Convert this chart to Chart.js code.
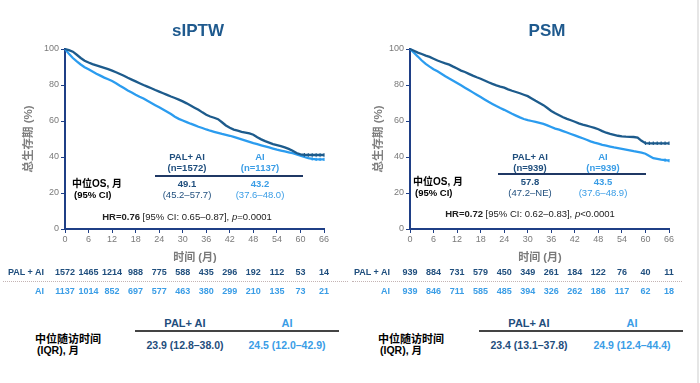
<!DOCTYPE html>
<html>
<head>
<meta charset="utf-8">
<script src="https://cdn.jsdelivr.net/npm/chart.js@4.4.1/dist/chart.umd.min.js"></script>
<style>
  html, body { margin:0; padding:0; background:#fff; }
  #wrap { position:relative; width:700px; height:383px; overflow:hidden; background:#fff;
          font-family:"Liberation Sans", Arial, "Noto Sans CJK SC", sans-serif; }
  .cv { position:absolute; top:0; width:350px; height:250px; }
  .t { position:absolute; white-space:nowrap; line-height:1; }
  .c { transform:translate(-50%,-50%); }
  .l { transform:translate(0,-50%); }
  .r { transform:translate(-100%,-50%); }
  .hl { position:absolute; height:0; }
</style>
</head>
<body>
<div id="wrap">
  <canvas id="c1" class="cv" style="left:0" width="350" height="250"></canvas>
  <canvas id="c2" class="cv" style="left:350px" width="350" height="250"></canvas>
</div>
<script>
// ---------------- data ----------------
const months = [0,1,2,3,4,5,6,7,8,9,10,11,12,13,14,15,16,17,18,19,20,21,22,23,24,25,26,27,28,29,30,
  31,32,33,34,35,36,37,38,39,40,41,42,43,44,45,46,47,48,49,50,51,52,53,54,55,56,57,58,59,60,
  61,62,63,64,65,66,67,68,68.6];

const sIptwPal = [100,99.4,98.5,96.8,95,93.5,92.5,91.6,90.9,90.2,89.5,88.8,88,87.1,86.1,85.1,84,83,82,81,80,
  79.1,78.2,77.2,76.3,75.4,74.5,73.6,72.8,71.9,70.9,69.8,68.6,67.4,66.2,64.8,63.5,62.5,61.8,61,59.3,
  57.5,56.2,55.2,54.6,54,53.6,53.1,52.4,51,49.8,48.8,48,47.2,46.6,46,45.3,44.5,43.5,42.2,41.5,
  41.2,41.1,41.1,41.1,41.1,41.1,41.1,41.1,41.1];
const sIptwAi = [100,97.3,95,93.1,91.4,89.9,88.7,87.5,86.3,85.2,84.1,83.2,82.2,81,79.6,78.3,77,75.8,74.6,73.5,72.5,
  71.2,70,68.8,67.6,66.4,65.2,63.9,62.4,61.2,60.3,59.4,58.5,57.7,56.8,56.1,55.3,54.6,54,53.4,52.8,
  52.3,51.8,51.2,50.5,49.8,49.1,48.4,47.7,47.1,46.5,45.9,45.3,44.7,44.1,43.6,43.1,42.6,42.1,41.5,40.8,
  40,39.4,39,38.7,38.7,38.7,38.7,38.7,38.7];
const psmPal = [100,99,98,97.2,96.3,95.6,94.6,93.6,92.8,92,91.3,90.2,89.2,88,87.2,86.2,85.2,84.3,83.5,82.5,81.5,
  80.6,79.8,79.1,78.5,77.6,76.8,76.1,75.4,74.6,73.8,72.5,71.2,70,68.8,67.2,65.6,64.3,63.2,62.1,61.2,
  60.4,59.6,58.7,58,57.4,56.8,56.2,55.4,54.4,53.5,52.8,52.3,51.8,51.5,51.3,51.2,51.1,50.8,49,47.7,
  47.6,47.6,47.6,47.6,47.6,47.6,47.6,47.6,47.6];
const psmAi = [100,97.9,95.8,93.6,91.7,90.2,88.8,87.6,86.3,84.9,83.6,82.4,81.1,79.8,78.5,77.2,75.9,74.6,73.3,72,70.7,
  69.5,68.3,67.2,66.2,65.1,64,63,62,61.1,60.5,60,59.5,59,58.4,57.6,56.7,55.8,55.2,54.4,53.6,
  52.8,52,51.2,50.4,49.6,48.7,48,47.4,46.8,46.3,45.8,45.3,44.9,44.5,44.1,43.7,43.2,42.8,42.4,41.8,
  40.6,39.3,39,38.6,38.3,38,37.9,37.9,37.9];

const riskMonths = [0,6,12,18,24,30,36,42,48,54,60,66];
const sIptwRiskPal = [1572,1465,1214,988,775,588,435,296,192,112,53,14];
const sIptwRiskAi  = [1137,1014,852,697,577,463,380,299,210,135,73,21];
const psmRiskPal   = [939,884,731,579,450,349,261,184,122,76,40,11];
const psmRiskAi    = [939,846,711,585,485,394,326,262,186,117,62,18];

const xTicks = [0,6,12,18,24,30,36,42,48,54,60,66];
const yTicks = [0,20,40,60,80,100];

// ---------------- style ----------------
const DARK = '#1d5b8c';
const LIGHT = '#2b9cef';
const AXIS = '#1f3f86';
const TXT_DARK = '#1f4e7d';
const TXT_LIGHT = '#3a9de6';
const FONT = '"Liberation Sans", Arial, "Noto Sans CJK SC", sans-serif';

function zip(xs, ys) { return ys.map((y, i) => ({x: xs[i], y})); }

function makeChart(id, pal, ai, yAxisX, xEndX, censorFrom) {
  const ctx = document.getElementById(id);
  const padLeft = 18;
  const radiusArr = (n, from, r) => months.map((m, i) => (m >= from && i < n) ? r : 0);
  return new Chart(ctx, {
    type: 'line',
    data: {
      datasets: [
        { label: 'PAL + AI', data: zip(months, pal), borderColor: DARK, borderWidth: 2.3,
          pointStyle: 'line', rotation: 90, pointRadius: radiusArr(pal.length, censorFrom[0], 1.8),
          pointBorderWidth: 1.2, pointBorderColor: DARK, tension: 0, clip: false, order: 1 },
        { label: 'AI', data: zip(months, ai), borderColor: LIGHT, borderWidth: 2.3,
          pointStyle: 'line', rotation: 90, pointRadius: radiusArr(ai.length, censorFrom[1], 1.6),
          pointBorderWidth: 1.2, pointBorderColor: LIGHT, tension: 0, clip: false, order: 2 }
      ]
    },
    options: {
      responsive: false,
      animation: false,
      events: [],
      layout: { padding: { left: padLeft, top: 49, right: 350 - xEndX, bottom: 0 } },
      plugins: { legend: { display: false }, tooltip: { enabled: false }, title: { display: false } },
      scales: {
        x: {
          type: 'linear', min: 0, max: 66,
          afterBuildTicks: (s) => { s.ticks = xTicks.map(v => ({value: v})); },
          afterFit: (s) => { s.height = 21; },
          grid: { display: true, drawOnChartArea: false, drawTicks: true, tickLength: 4, color: AXIS, lineWidth: 1 },
          border: { display: true, color: AXIS, width: 2 },
          ticks: { color: '#7a7a7a', font: { family: FONT, size: 9 }, padding: 1, maxRotation: 0, autoSkip: false }
        },
        y: {
          type: 'linear', min: 0, max: 100,
          afterBuildTicks: (s) => { s.ticks = yTicks.map(v => ({value: v})); },
          afterFit: (s) => { s.width = yAxisX - padLeft; },
          grid: { display: true, drawOnChartArea: false, drawTicks: true, tickLength: 4, color: AXIS, lineWidth: 1 },
          border: { display: true, color: AXIS, width: 2 },
          ticks: { color: '#7a7a7a', font: { family: FONT, size: 9 }, padding: 2 },
          title: { display: true, text: '总生存期 (%)', color: '#7f7f7f',
                   font: { family: FONT, size: 11.5, weight: 'bold' }, padding: { top: 4, bottom: 0 } }
        }
      }
    }
  });
}

const chart1 = makeChart('c1', sIptwPal, sIptwAi, 65, 324, [61, 63]);
const chart2 = makeChart('c2', psmPal, psmAi, 60, 319, [60, 65]);

// ---------------- overlay text ----------------
const wrap = document.getElementById('wrap');
function txt(html, x, y, opts) {
  const d = document.createElement('div');
  d.className = 't ' + (opts.a || 'c');
  d.innerHTML = html;
  d.style.left = x + 'px';
  d.style.top = y + 'px';
  d.style.fontSize = (opts.s || 10) + 'px';
  d.style.color = opts.c || '#000';
  d.style.fontWeight = opts.b ? 'bold' : 'normal';
  wrap.appendChild(d);
  return d;
}
function hline(x1, x2, y, w, color, style) {
  const d = document.createElement('div');
  d.className = 'hl';
  d.style.left = x1 + 'px';
  d.style.width = (x2 - x1) + 'px';
  d.style.top = (y - w / 2) + 'px';
  d.style.borderTop = w + 'px ' + (style || 'solid') + ' ' + color;
  wrap.appendChild(d);
}

function panel(chart, offX, cfg) {
  txt(cfg.title, cfg.titleX, 30, {b: true, s: 17, c: '#1f5a8e'});
  // median OS block
  txt('PAL+ AI', cfg.colA, 157, {b: true, s: 9.5, c: TXT_DARK});
  txt(cfg.nA, cfg.colA, 168, {b: true, s: 9.5, c: TXT_DARK});
  txt('AI', cfg.colB, 157, {b: true, s: 9.5, c: TXT_LIGHT});
  txt(cfg.nB, cfg.colB, 168, {b: true, s: 9.5, c: TXT_LIGHT});
  hline(cfg.lineX1, cfg.lineX2, cfg.lineY, 2, '#1f3864');
  txt(cfg.medA, cfg.colA, cfg.medY, {b: true, s: 9.5, c: TXT_DARK});
  txt(cfg.ciA, cfg.colA, cfg.medY + 11, {s: 9.5, c: TXT_DARK});
  txt(cfg.medB, cfg.colB, cfg.medY, {b: true, s: 9.5, c: TXT_LIGHT});
  txt(cfg.ciB, cfg.colB, cfg.medY + 11, {s: 9.5, c: TXT_LIGHT});
  txt('中位OS, 月', cfg.osX, cfg.medY, {a: 'l', b: true, s: 10, c: '#000'});
  txt('(95% CI)', cfg.osX + 2, cfg.medY + 11, {a: 'l', b: true, s: 9.5, c: '#000'});
  txt(cfg.hr, cfg.colA, cfg.hrY, {s: 9.5, c: '#222'});
  // x axis title
  txt('时间 (月)', cfg.axX, 257, {b: true, s: 11, c: '#7a7a7a'});
  // numbers at risk
  const xs = chart.scales.x;
  txt('PAL + AI', cfg.labX, 272, {a: 'r', b: true, s: 9, c: TXT_DARK});
  txt('AI', cfg.labX, 291, {a: 'r', b: true, s: 9, c: TXT_LIGHT});
  riskMonths.forEach((m, i) => {
    const px = offX + xs.getPixelForValue(m);
    txt(String(cfg.riskA[i]), px, 272, {b: true, s: 9, c: TXT_DARK});
    txt(String(cfg.riskB[i]), px, 291, {b: true, s: 9, c: TXT_LIGHT});
  });
  hline(cfg.dotX1, cfg.dotX2, 282, 1.5, '#c4b4b4', 'dotted');
  // follow-up table
  txt('PAL+ AI', cfg.colA2, 323, {b: true, s: 11, c: TXT_DARK});
  txt('AI', cfg.colB2, 323, {b: true, s: 11, c: TXT_LIGHT});
  hline(cfg.tabX1, cfg.tabX2, 331, 2, '#444');
  txt(cfg.fuA, cfg.colA2, 345, {b: true, s: 10.5, c: TXT_DARK});
  txt(cfg.fuB, cfg.colB2, 345, {b: true, s: 10.5, c: TXT_LIGHT});
  txt('中位随访时间', cfg.fuLabX, 339, {a: 'l', b: true, s: 11, c: '#000'});
  txt('(IQR), 月', cfg.fuLabX + 2, 350, {a: 'l', b: true, s: 10.5, c: '#000'});
}

panel(chart1, 0, {
  title: 'sIPTW', titleX: 198,
  colA: 187, colB: 260, nA: '(n=1572)', nB: '(n=1137)',
  lineX1: 155, lineX2: 303, lineY: 176, medY: 184,
  medA: '49.1', ciA: '(45.2–57.7)', medB: '43.2', ciB: '(37.6–48.0)',
  osX: 72, hrY: 217,
  hr: '<b>HR=0.76</b> [95% CI: 0.65–0.87], <i>p</i>=0.0001',
  axX: 195, labX: 44,
  riskA: sIptwRiskPal, riskB: sIptwRiskAi, dotX1: 3, dotX2: 348,
  colA2: 185, colB2: 287, tabX1: 135, tabX2: 339,
  fuA: '23.9 (12.8–38.0)', fuB: '24.5 (12.0–42.9)', fuLabX: 35
});
panel(chart2, 350, {
  title: 'PSM', titleX: 547,
  colA: 530, colB: 603, nA: '(n=939)', nB: '(n=939)',
  lineX1: 498, lineX2: 646, lineY: 174, medY: 182,
  medA: '57.8', ciA: '(47.2–NE)', medB: '43.5', ciB: '(37.6–48.9)',
  osX: 413, hrY: 214,
  hr: '<b>HR=0.72</b> [95% CI: 0.62–0.83], <i>p</i>&lt;0.0001',
  axX: 540, labX: 390,
  riskA: psmRiskPal, riskB: psmRiskAi, dotX1: 352, dotX2: 682,
  colA2: 529, colB2: 632, tabX1: 479, tabX2: 683,
  fuA: '23.4 (13.1–37.8)', fuB: '24.9 (12.4–44.4)', fuLabX: 378
});

// right edge frame line
const edge = document.createElement('div');
edge.style.cssText = 'position:absolute;left:697px;top:0;width:2px;height:383px;background:#e6e6e6;';
wrap.appendChild(edge);
</script>
</body>
</html>
